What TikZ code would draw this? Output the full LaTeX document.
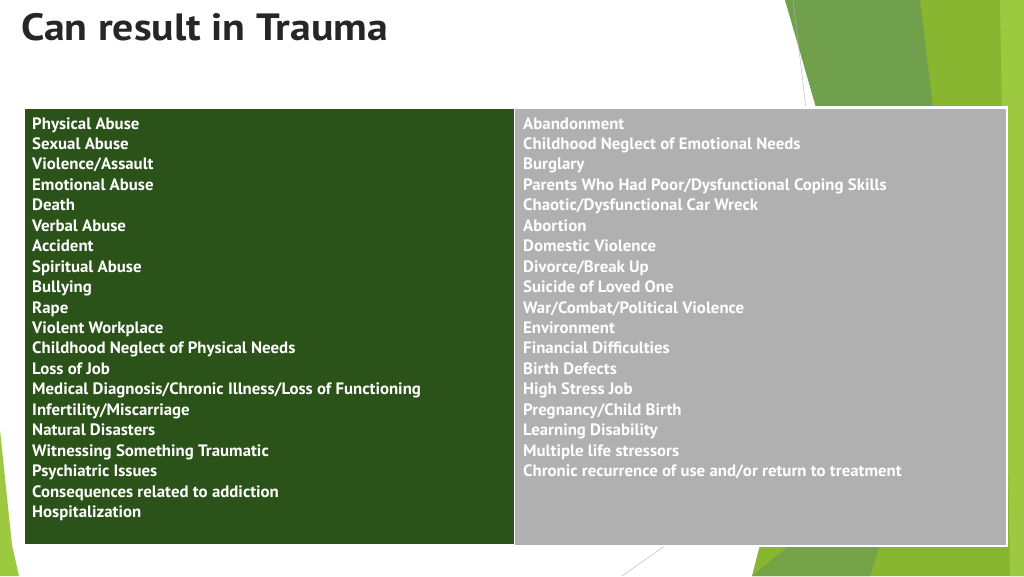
\documentclass[tikz,border=0pt]{standalone}
\usepackage{fontspec}
\setmainfont{PT Sans}
\definecolor{dkg}{HTML}{2A5219}
\definecolor{gry}{HTML}{B0B0B0}
\definecolor{midg}{HTML}{70A04C}
\definecolor{brg}{HTML}{88B630}
\definecolor{ltg}{HTML}{9CC93F}
\begin{document}
\begin{tikzpicture}[x=1pt,y=-1pt,
  item/.style={anchor=base west,inner sep=0pt,text=white,xscale=1.02,font=\fontsize{16.5}{16.5}\bfseries\selectfont}]
\useasboundingbox (0,0) rectangle (1024,576);
\fill[white] (0,0) rectangle (1024,576);
\fill[brg] (900,0)--(1024,0)--(1024,576)--(752,576)--cycle;
\fill[midg] (785,0)--(920,0)--(960,330)--(880,330)--cycle;
\fill[ltg] (1000,0)--(1024,0)--(1024,576)--(1010,576)--cycle;
\fill[midg!85!brg] (752,576)--(790,545)--(880,545)--(870,576)--cycle;
\fill[ltg] (0,430)--(12,545)--(19,576)--(0,576)--cycle;
\draw[gray!60,thin] (793,0)--(806,108);
\draw[gray!60,thin] (666,545)--(622,576);
\node[anchor=base west,inner sep=0pt,xscale=1.1,font=\fontsize{38}{38}\bfseries\selectfont,text=black!85] (title) at (21,40) {Can result in Trauma};
\fill[white] (22,106) rectangle (1008,547);
\node[fill=dkg,minimum width=489,minimum height=435,inner sep=0pt,anchor=north west] (L) at (25,109) {};
\node[fill=gry,minimum width=491,minimum height=436,inner sep=0pt,anchor=north west] (R) at (515,109) {};
\foreach [count=\i] \t in {Physical Abuse,Sexual Abuse,Violence/Assault,Emotional Abuse,Death,Verbal Abuse,Accident,Spiritual Abuse,Bullying,Rape,Violent Workplace,Childhood Neglect of Physical Needs,Loss of Job,Medical Diagnosis/Chronic Illness/Loss of Functioning,Infertility/Miscarriage,Natural Disasters,Witnessing Something Traumatic,Psychiatric Issues,Consequences related to addiction,Hospitalization}
  \node[item] (l\i) at (32,{129+(\i-1)*20.45}) {\t};
\foreach [count=\i] \t in {Abandonment,Childhood Neglect of Emotional Needs,Burglary,Parents Who Had Poor/Dysfunctional Coping Skills,Chaotic/Dysfunctional Car Wreck,Abortion,Domestic Violence,Divorce/Break Up,Suicide of Loved One,War/Combat/Political Violence,Environment,Financial Difficulties,Birth Defects,High Stress Job,Pregnancy/Child Birth,Learning Disability,Multiple life stressors,Chronic recurrence of use and/or return to treatment}
  \node[item] (r\i) at (523,{129+(\i-1)*20.45}) {\t};
\end{tikzpicture}
\end{document}
